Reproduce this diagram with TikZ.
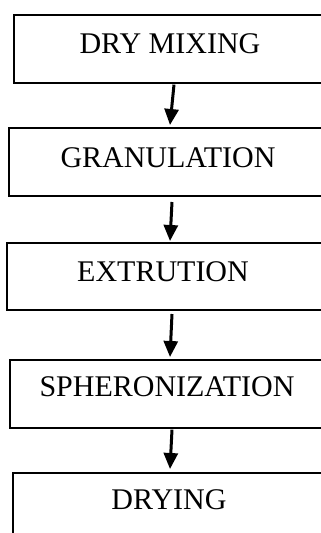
\documentclass[tikz,border=0pt]{standalone}
\usepackage{fontspec}
\setmainfont{Liberation Serif}
\usetikzlibrary{arrows.meta,calc}
\begin{document}
\begin{tikzpicture}[x=1pt,y=-1pt,
  stagebox/.style={draw,line width=1.6pt,rectangle,anchor=north west,minimum width=340pt,minimum height=#1,inner sep=0pt},
  stagetext/.style={anchor=base,inner sep=0pt,font=\fontsize{30}{36}\selectfont},
  flowarrow/.style={line width=3pt,-{Triangle[length=16pt,width=14pt]}}]
\useasboundingbox (0,0) rectangle (321,533);
\clip (0,0) rectangle (321,533);
\fill[white] (0,0) rectangle (321,533);
\node[stagebox=68pt] (b1) at (13,14) {};
\node[stagebox=68pt] (b2) at (8,127) {};
\node[stagebox=67pt] (b3) at (6,242) {};
\node[stagebox=68pt] (b4) at (9,359) {};
\node[stagebox=90pt] (b5) at (12,472) {};
\node[stagetext] (t1) at (170,53) {DRY MIXING};
\node[stagetext] (t2) at (168,167) {GRANULATION};
\node[stagetext] (t3) at (163,281) {EXTRUTION};
\node[stagetext] (t4) at (167,396) {SPHERONIZATION};
\node[stagetext] (t5) at (169,509) {DRYING};
\draw[flowarrow] ($(b1.south west)+(161,1)$) -- ($(b2.north west)+(162,-2)$);
\draw[flowarrow] ($(b2.north west)+(164,75)$) -- ($(b3.north west)+(164,-1)$);
\draw[flowarrow] ($(b3.north west)+(166,72)$) -- ($(b4.north west)+(161,-2)$);
\draw[flowarrow] ($(b4.south west)+(163,1)$) -- ($(b5.north west)+(158,-3)$);
\end{tikzpicture}
\end{document}
